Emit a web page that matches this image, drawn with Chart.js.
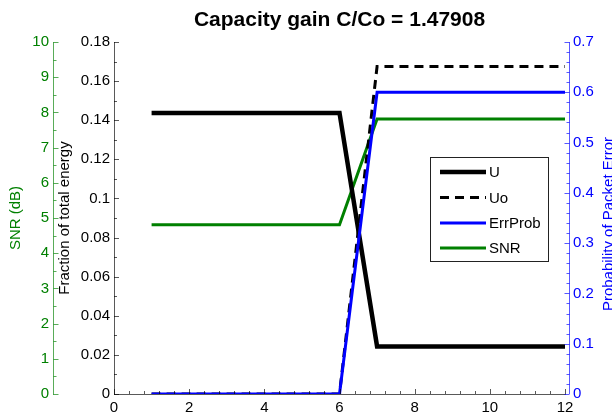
<!DOCTYPE html>
<html>
<head>
<meta charset="utf-8">
<script src="https://cdn.jsdelivr.net/npm/chart.js@4/dist/chart.umd.min.js"></script>
<style>
html,body{margin:0;padding:0;background:#fff;}
#wrap{width:612px;height:417px;position:relative;}
</style>
</head>
<body>
<div id="wrap"><canvas id="c" width="612" height="417"></canvas></div>
<script>
// ---- data ----
const xValues  = [1, 2, 3, 4, 5, 6, 7, 8, 9, 10, 11, 12];
const U        = [0.1437, 0.1437, 0.1437, 0.1437, 0.1437, 0.1437, 0.0243, 0.0243, 0.0243, 0.0243, 0.0243, 0.0243];
const Uo       = [0, 0, 0, 0, 0, 0, 0.1675, 0.1675, 0.1675, 0.1675, 0.1675, 0.1675];
const ErrProb  = [0, 0, 0, 0, 0, 0, 0.6, 0.6, 0.6, 0.6, 0.6, 0.6];
const SNR      = [4.81, 4.81, 4.81, 4.81, 4.81, 4.81, 7.81, 7.81, 7.81, 7.81, 7.81, 7.81];

const seriesNames = ['U', 'Uo', 'ErrProb', 'SNR'];
const titleText   = 'Capacity gain C/Co = 1.47908';
const xTicks      = [0, 2, 4, 6, 8, 10, 12];
const fracTicks   = [0, 0.02, 0.04, 0.06, 0.08, 0.1, 0.12, 0.14, 0.16, 0.18];
const snrTicks    = [0, 1, 2, 3, 4, 5, 6, 7, 8, 9, 10];
const errTicks    = [0, 0.1, 0.2, 0.3, 0.4, 0.5, 0.6, 0.7];
const axisTitles  = {snr: 'SNR (dB)', frac: 'Fraction of total energy', err: 'Probability of Packet Error'};

// ---- styles ----
const FONT = "'Liberation Sans', Arial, Helvetica, sans-serif";
const GREEN = '#008000', BLUE = '#0000ff';
Chart.defaults.font.family = FONT;
Chart.defaults.font.size = 15;
Chart.defaults.color = '#000';

const pts = arr => xValues.map((x, i) => ({x: x, y: arr[i]}));
const fmt = v => String(+(+v).toFixed(2));

function fixTicks(list) {
  return function (scale) { scale.ticks = list.map(v => ({value: v})); };
}

const inwardTicks = {
  id: 'inwardTicks',
  afterDraw(chart) {
    const ctx = chart.ctx, a = chart.chartArea, s = chart.scales;
    ctx.save();
    ctx.lineWidth = 1;
    function vTicks(scale, x, dir, majors, minorStep, color, majLen, minLen) {
      ctx.strokeStyle = color;
      ctx.beginPath();
      const n = Math.round((scale.max - scale.min) / minorStep);
      for (let i = 0; i <= n; i++) {
        const v = scale.min + i * minorStep;
        const isMaj = majors.some(m => Math.abs(m - v) < minorStep / 10);
        const y = Math.round(scale.getPixelForValue(v)) + 0.5;
        const L = isMaj ? majLen : minLen;
        ctx.moveTo(x, y); ctx.lineTo(x + dir * L, y);
      }
      ctx.stroke();
    }
    // x axis
    ctx.strokeStyle = 'rgba(0,0,0,0.65)';
    ctx.beginPath();
    const xs = s.x, nx = Math.round((xs.max - xs.min) / 0.4);
    for (let i = 0; i <= nx; i++) {
      const v = xs.min + i * 0.4;
      const isMaj = xTicks.some(m => Math.abs(m - v) < 0.04);
      const px = Math.round(xs.getPixelForValue(v)) + 0.5;
      ctx.moveTo(px, a.bottom); ctx.lineTo(px, a.bottom - (isMaj ? 5 : 3));
    }
    ctx.stroke();
    // fraction axis (inner left)
    vTicks(s.y, a.left, 1, fracTicks, 0.01, 'rgba(0,0,0,0.65)', 5, 3);
    // SNR axis (outer left)
    vTicks(s.ySNR, Math.round(s.ySNR.right) + 0.5, 1, snrTicks, 0.5, 'rgba(0,128,0,0.65)', 5, 3);
    // error axis (right), slightly offset from plot edge
    const bx = Math.round(a.right) + 4.5;
    ctx.strokeStyle = 'rgba(0,0,255,0.65)';
    ctx.beginPath(); ctx.moveTo(bx, a.top); ctx.lineTo(bx, a.bottom); ctx.stroke();
    vTicks(s.yErr, bx, -1, errTicks, 0.02, 'rgba(0,0,255,0.65)', 5, 3);
    // right axis title (reads upward, partly cut by canvas edge)
    ctx.fillStyle = BLUE;
    ctx.font = '15px ' + FONT;
    ctx.translate(612.5, 224);
    ctx.rotate(-Math.PI / 2);
    ctx.textAlign = 'center';
    ctx.textBaseline = 'alphabetic';
    ctx.fillText(axisTitles.err, 0, 0);
    ctx.restore();
  }
};

const boxLegend = {
  id: 'boxLegend',
  afterDraw(chart) {
    const ctx = chart.ctx;
    const L = 430, T = 157, R = 549, B = 262;
    ctx.save();
    ctx.fillStyle = '#fff';
    ctx.fillRect(L, T, R - L, B - T);
    ctx.strokeStyle = '#222';
    ctx.lineWidth = 1;
    ctx.strokeRect(L + 0.5, T + 0.5, R - L - 1, B - T - 1);
    const rows = [172, 197.5, 223, 248];
    chart.data.datasets.forEach((ds, i) => {
      const y = rows[i];
      ctx.strokeStyle = ds.borderColor;
      ctx.lineWidth = ds.borderWidth;
      ctx.setLineDash(ds.borderDash || []);
      ctx.beginPath(); ctx.moveTo(440, y); ctx.lineTo(486, y); ctx.stroke();
      ctx.setLineDash([]);
      ctx.fillStyle = '#000';
      ctx.font = '15px ' + FONT;
      ctx.textBaseline = 'middle';
      ctx.textAlign = 'left';
      ctx.fillText(ds.label, 489, y + 1);
    });
    ctx.restore();
  }
};

new Chart(document.getElementById('c'), {
  type: 'line',
  data: {
    datasets: [
      {label: seriesNames[0], data: pts(U), yAxisID: 'y', borderColor: '#000', borderWidth: 4.5, order: 2},
      {label: seriesNames[1], data: pts(Uo), yAxisID: 'y', borderColor: '#000', borderWidth: 3, borderDash: [9, 6], order: 3},
      {label: seriesNames[2], data: pts(ErrProb), yAxisID: 'yErr', borderColor: BLUE, borderWidth: 3, order: 1},
      {label: seriesNames[3], data: pts(SNR), yAxisID: 'ySNR', borderColor: GREEN, borderWidth: 3, order: 4}
    ]
  },
  options: {
    responsive: false,
    animation: false,
    events: [],
    layout: {padding: 0},
    elements: {
      point: {radius: 0, hoverRadius: 0},
      line: {tension: 0, fill: false, borderJoinStyle: 'miter', borderCapStyle: 'butt'}
    },
    plugins: {
      legend: {display: false},
      tooltip: {enabled: false},
      title: {
        display: true, text: titleText, fullSize: false,
        color: '#000', font: {size: 21, weight: 'bold', family: FONT},
        padding: {top: 7.4, bottom: 9.4}
      }
    },
    scales: {
      x: {
        type: 'linear', position: 'bottom', min: 0, max: 12,
        afterBuildTicks: fixTicks(xTicks),
        afterFit: s => { s.height = 23; },
        grid: {display: false, drawTicks: false},
        border: {display: true, color: 'rgba(0,0,0,0.65)', width: 1},
        ticks: {padding: 5, color: '#000', font: {size: 15}, maxRotation: 0, autoSkip: false, callback: v => fmt(v)}
      },
      y: {
        type: 'linear', position: 'left', min: 0, max: 0.18, weight: 1,
        afterBuildTicks: fixTicks(fracTicks),
        afterFit: s => { s.width = 61; },
        grid: {display: false, drawTicks: false},
        border: {display: true, color: 'rgba(0,0,0,0.65)', width: 1},
        ticks: {padding: 4, color: '#000', font: {size: 15}, autoSkip: false, callback: v => fmt(v)},
        title: {display: true, text: axisTitles.frac, color: '#000', font: {size: 15}, padding: {top: 3, bottom: 0}}
      },
      ySNR: {
        type: 'linear', position: 'left', min: 0, max: 10, weight: 2,
        afterBuildTicks: fixTicks(snrTicks),
        afterFit: s => { s.width = 53; },
        grid: {display: false, drawTicks: false},
        border: {display: true, color: 'rgba(0,128,0,0.65)', width: 1},
        ticks: {padding: 4, color: GREEN, font: {size: 15}, autoSkip: false, callback: v => fmt(v)},
        title: {display: true, text: axisTitles.snr, color: GREEN, font: {size: 15}, padding: {top: 7, bottom: 0}}
      },
      yErr: {
        type: 'linear', position: 'right', min: 0, max: 0.7,
        afterBuildTicks: fixTicks(errTicks),
        afterFit: s => { s.width = 47; },
        grid: {display: false, drawTicks: false},
        border: {display: false},
        ticks: {padding: 8, color: BLUE, font: {size: 15}, autoSkip: false, callback: v => fmt(v)}
      }
    }
  },
  plugins: [inwardTicks, boxLegend]
});
</script>
</body>
</html>
